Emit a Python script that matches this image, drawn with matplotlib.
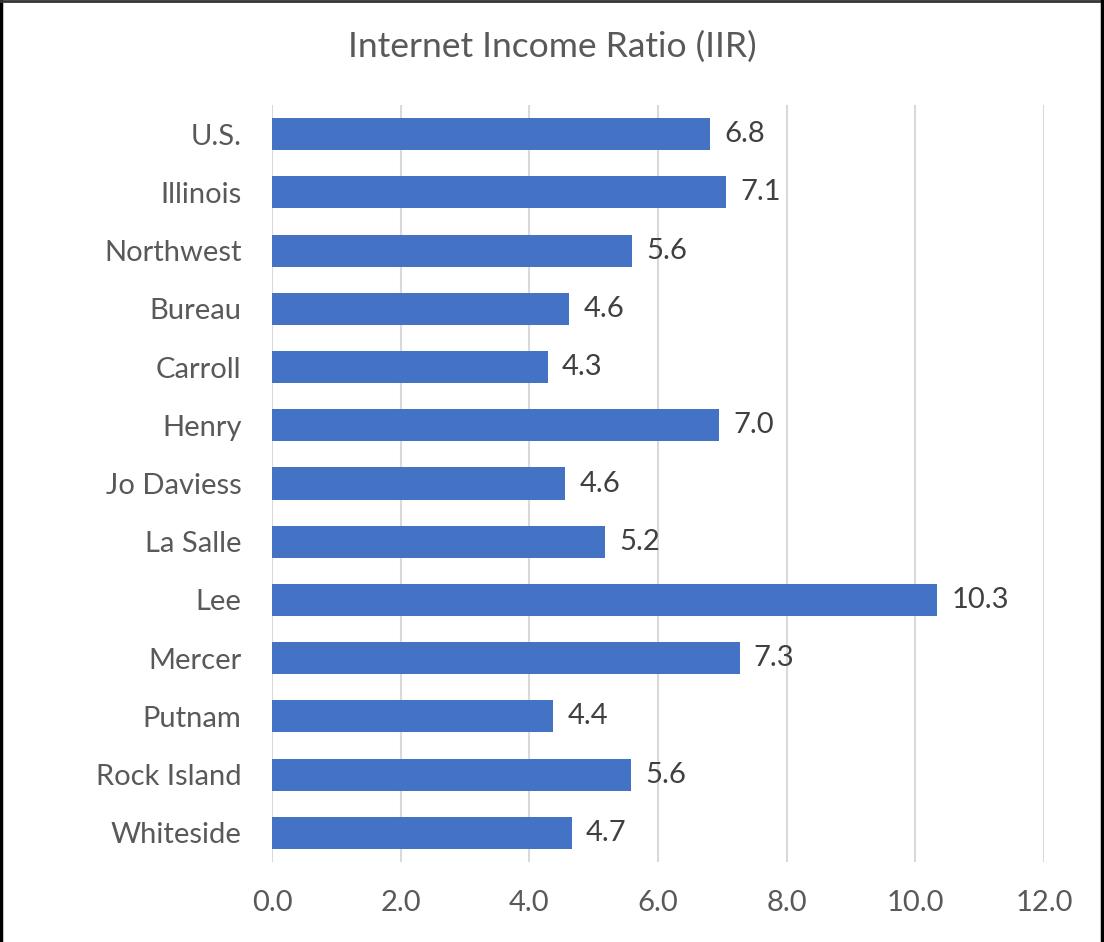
import matplotlib
matplotlib.use('Agg')
import matplotlib.pyplot as plt
from matplotlib.lines import Line2D

plt.rcParams['font.family'] = ['Lato', 'DejaVu Sans']

# data, top to bottom
regions = ['U.S.', 'Illinois', 'Northwest', 'Bureau', 'Carroll', 'Henry', 'Jo Daviess',
           'La Salle', 'Lee', 'Mercer', 'Putnam', 'Rock Island', 'Whiteside']
iir = [6.81, 7.06, 5.60, 4.62, 4.29, 6.95, 4.56, 5.18, 10.34, 7.27, 4.37, 5.58, 4.66]
xticks = [0, 2, 4, 6, 8, 10, 12]

text_col = '#595959'
bar_col = '#4472C4'

fig = plt.figure(figsize=(11.04, 9.42), dpi=100)
ax = fig.add_axes([272 / 1104, 80 / 942, 772 / 1104, 757 / 942])

pos = list(range(len(regions)))
ax.barh(pos, iir, height=0.55, color=bar_col, zorder=3)
for y, v in zip(pos, iir):
    ax.text(v + 0.22, y, f'{v:.1f}', va='center', ha='left', fontsize=21, color='#404040')

ax.set_xlim(0, 12)
ax.set_ylim(len(regions) - 0.5, -0.5)
ax.set_yticks(pos)
ax.set_yticklabels(regions)
ax.set_xticks(xticks)
ax.set_xticklabels([f'{t:.1f}' for t in xticks])
ax.tick_params(axis='both', length=0, labelsize=21, labelcolor=text_col)
ax.tick_params(axis='y', pad=22)
ax.tick_params(axis='x', pad=20)
ax.grid(axis='x', color='#d9d9d9', linewidth=1.5, zorder=0)
for s in ax.spines.values():
    s.set_visible(False)

fig.text(0.5, 1 - 47 / 942, 'Internet Income Ratio (IIR)', ha='center', va='center',
         fontsize=25.5, color=text_col)

# outer frame (left, top, right)
fig.add_artist(Line2D([0.001, 0.001], [0, 1], transform=fig.transFigure, color='black', lw=2.5))
fig.add_artist(Line2D([0, 1], [0.999, 0.999], transform=fig.transFigure, color='#333333', lw=2))
fig.add_artist(Line2D([0.998, 0.998], [0, 1], transform=fig.transFigure, color='black', lw=2.5))

fig.savefig('out.png', dpi=100)
